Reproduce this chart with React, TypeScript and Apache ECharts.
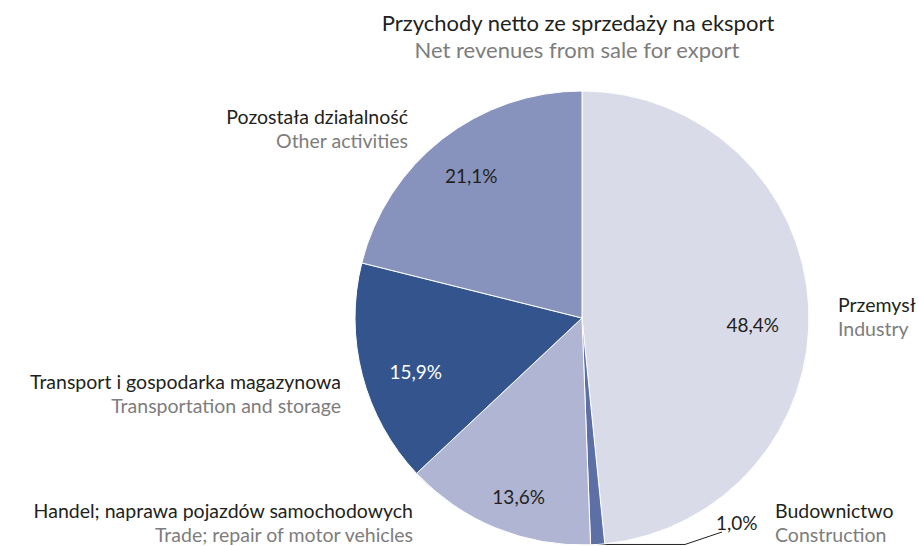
import React, { useEffect, useRef } from "react";
import * as echarts from "echarts";

const titlePl = "Przychody netto ze sprzedaży na eksport";
const titleEn = "Net revenues from sale for export";
const categoriesPl = [
  "Przemysł",
  "Budownictwo",
  "Handel; naprawa pojazdów samochodowych",
  "Transport i gospodarka magazynowa",
  "Pozostała działalność",
];
const categoriesEn = [
  "Industry",
  "Construction",
  "Trade; repair of motor vehicles",
  "Transportation and storage",
  "Other activities",
];
const shares = [48.4, 1.0, 13.6, 15.9, 21.1];

const sliceColors = ["#d9dbe9", "#5d70a6", "#b0b5d3", "#33548c", "#8893bd"];
const pctColors = ["#231f20", "#231f20", "#231f20", "#ffffff", "#231f20"];
// per-slice fine offsets for the inner percentage labels
const pctOffsets = [[-9, 16], [0, 0], [5, 12], [8, 8], [0, -1]];
// outer category label anchors (centre of first line)
const catAnchors: [number, number, string][] = [
  [838, 304, "left"],
  [775, 510, "left"],
  [413, 510, "right"],
  [341, 381, "right"],
  [408, 116, "right"],
];

const FONT = "Lato";
const DARK = "#231f20";
const GREY = "#7d7d7d";
const fmt = (v: number) => v.toFixed(1).replace(".", ",") + "%";

export default function App() {
  const ref = useRef<HTMLDivElement>(null);
  useEffect(() => {
    if (!ref.current) return;
    const chart = echarts.init(ref.current, null, { renderer: "svg" });
    const CX = 582, CY = 318, R = 227;
    const smallIdx = 1;

    const mainData = shares.map((v, i) => ({
      value: v,
      name: categoriesPl[i],
      itemStyle: { color: sliceColors[i] },
      label: i === smallIdx ? { show: true } : { show: false },
      labelLine: i === smallIdx ? { show: true } : { show: false },
    }));
    const labelData = shares.map((v, i) => ({
      value: v,
      name: categoriesPl[i],
      label: {
        show: i !== smallIdx,
        color: pctColors[i],
        offset: pctOffsets[i],
      },
    }));

    const TLH = 27;
    const LH = 24;
    const graphics: any[] = [
      {
        type: "text",
        x: 578,
        y: 22,
        style: { text: titlePl, fill: DARK, font: `22px '${FONT}'`, textAlign: "center", textVerticalAlign: "middle" },
      },
      {
        type: "text",
        x: 577,
        y: 22 + TLH,
        style: { text: titleEn, fill: GREY, font: `22px '${FONT}'`, textAlign: "center", textVerticalAlign: "middle" },
      },
    ];
    catAnchors.forEach(([x, y, align], i) => {
      graphics.push({
        type: "text",
        x,
        y,
        style: { text: categoriesPl[i], fill: DARK, font: `19.5px '${FONT}'`, textAlign: align, textVerticalAlign: "middle" },
      });
      graphics.push({
        type: "text",
        x,
        y: y + LH,
        style: { text: categoriesEn[i], fill: GREY, font: `19.5px '${FONT}'`, textAlign: align, textVerticalAlign: "middle" },
      });
    });

    chart.setOption({
      animation: false,
      backgroundColor: "#ffffff",
      textStyle: { fontFamily: FONT },
      series: [
        {
          type: "pie",
          center: [CX, CY],
          radius: [0, R],
          startAngle: 90,
          clockwise: true,
          silent: true,
          itemStyle: { borderColor: "#ffffff", borderWidth: 1 },
          label: {
            position: "outside",
            formatter: (p: any) => fmt(p.value),
            color: DARK,
            fontSize: 19,
            fontFamily: FONT,
          },
          labelLine: { lineStyle: { color: DARK, width: 1 } },
          labelLayout: (params: any) => {
            if (params.dataIndex !== smallIdx) return {};
            const pts = params.labelLinePoints;
            const lx = 716, ly = 522;
            if (!pts) return { x: lx, y: ly, align: "left", verticalAlign: "middle" };
            const p0 = pts[0];
            return {
              x: lx,
              y: ly,
              align: "left",
              verticalAlign: "middle",
              labelLinePoints: [p0, [685, p0[1]], [722, 532]],
            };
          },
          data: mainData,
        },
        {
          type: "pie",
          center: [CX, CY],
          radius: [127, R],
          startAngle: 90,
          clockwise: true,
          silent: true,
          itemStyle: { color: "rgba(0,0,0,0)", borderWidth: 0 },
          label: {
            position: "inside",
            formatter: (p: any) => fmt(p.value),
            fontSize: 19,
            fontFamily: FONT,
          },
          labelLine: { show: false },
          data: labelData,
        },
      ],
      graphic: graphics,
    });
    return () => chart.dispose();
  }, []);
  return <div ref={ref} style={{ position: "absolute", left: 0, top: 0, width: 919, height: 546 }} />;
}
